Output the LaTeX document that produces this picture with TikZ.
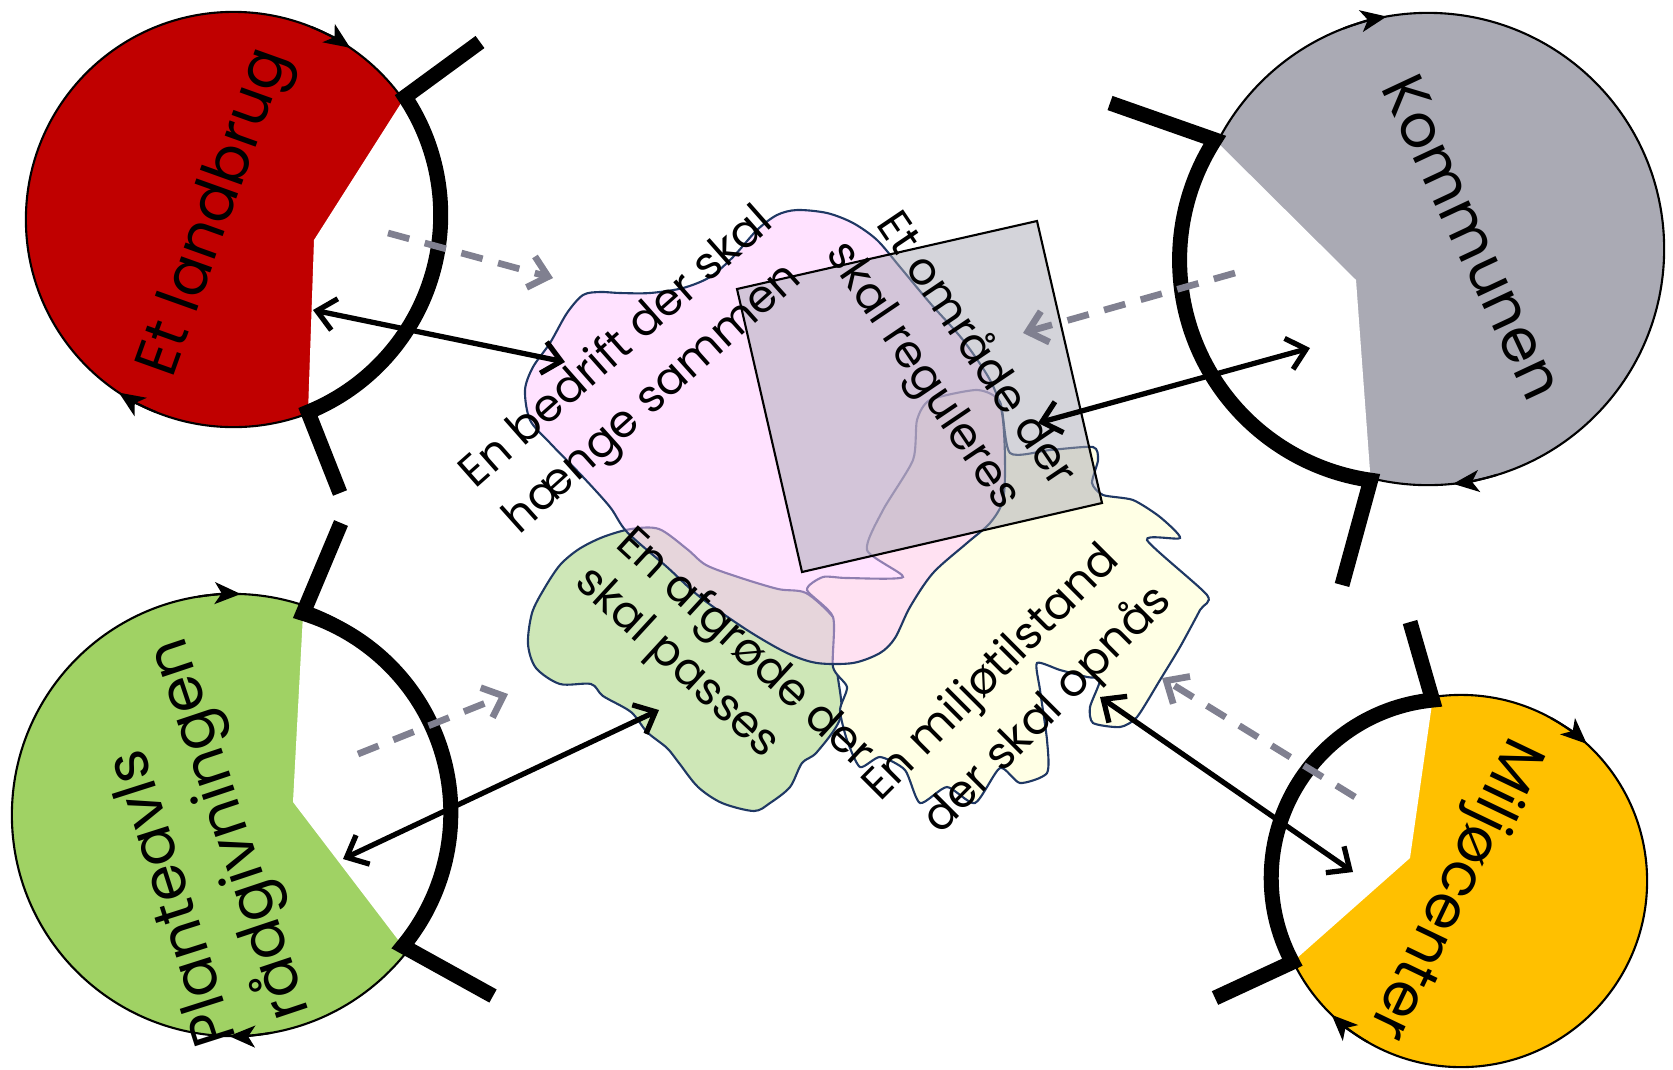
\documentclass[tikz,border=0pt]{standalone}
\usepackage{fontspec}
\setmainfont{Poppins}
\usetikzlibrary{arrows.meta}
\definecolor{cred}{RGB}{192,0,0}
\definecolor{cgray}{RGB}{170,170,180}
\definecolor{cgreen}{RGB}{160,210,100}
\definecolor{corange}{RGB}{255,192,0}
\definecolor{cpink}{RGB}{255,197,255}
\definecolor{cleaf}{RGB}{206,231,183}
\definecolor{civory}{RGB}{255,255,229}
\definecolor{cedge}{RGB}{31,56,100}
\definecolor{cdash}{RGB}{128,128,144}
\definecolor{csq}{RGB}{169,169,181}
\begin{document}
\begin{tikzpicture}[x=0.01cm,y=0.01cm,
  disc/.style={draw=black,line width=0.6pt},
  heavy/.style={line width=0.15cm,line join=miter,line cap=butt},
  flow/.style={-{Stealth[length=0.26cm,width=0.22cm,inset=0.07cm]},line width=0.6pt},
  link/.style={line width=1.5pt,{Straight Barb[length=0.18cm,width=0.32cm]}-{Straight Barb[length=0.18cm,width=0.32cm]}},
  hint/.style={line width=1.9pt,draw=cdash,dash pattern=on 0.22cm off 0.16cm,-{Straight Barb[length=0.18cm,width=0.32cm]}},
  blob/.style={draw=cedge,line width=0.6pt},
  big/.style={font=\fontsize{17}{20}\selectfont,inner sep=0pt},
  small/.style={font=\fontsize{12.8}{15}\selectfont,inner sep=0pt},
]
\useasboundingbox (0,0) rectangle (1673,-1069);

% ---------- Et landbrug (red) ----------
\fill[cred] (233.5,-219.5) circle[radius=2.075cm];
\draw[disc] (233.5,-219.5) circle[radius=2.075cm];
\fill[white] (314,-240) -- ([shift={(33.7:2.126cm)}]228,-215) arc[start angle=33.7,end angle=-67.9,radius=2.126cm] -- cycle;
\draw[heavy] (480,-42) -- ([shift={(33.7:2.126cm)}]228,-215) arc[start angle=33.7,end angle=-67.9,radius=2.126cm] -- (340,-493);
\draw[flow] ([shift={(68:2.075cm)}]233.5,-219.5) arc[start angle=68,end angle=55.8,radius=2.075cm];
\draw[flow] ([shift={(248:2.075cm)}]233.5,-219.5) arc[start angle=248,end angle=236.5,radius=2.075cm];

% ---------- Kommunen (gray) ----------
\fill[cgray] (1428,-249) circle[radius=2.36cm];
\draw[disc] (1428,-249) circle[radius=2.36cm];
\fill[white] (1356,-280) -- ([shift={(147.3:2.223cm)}]1402,-260) arc[start angle=147.3,end angle=261.9,radius=2.223cm] -- cycle;
\draw[heavy] (1110,-103) -- ([shift={(147.3:2.223cm)}]1402,-260) arc[start angle=147.3,end angle=261.9,radius=2.223cm] -- (1342,-585);
\draw[flow] ([shift={(111:2.36cm)}]1428,-249) arc[start angle=111,end angle=100.1,radius=2.36cm];
\draw[flow] ([shift={(287:2.36cm)}]1428,-249) arc[start angle=287,end angle=276.1,radius=2.36cm];

% ---------- Planteavls (green) ----------
\fill[cgreen] (233,-815) circle[radius=2.21cm];
\draw[disc] (233,-815) circle[radius=2.21cm];
\fill[white] (293,-802) -- ([shift={(73:2.087cm)}]242,-813) arc[start angle=73,end angle=-39.6,radius=2.087cm] -- cycle;
\draw[heavy] (341,-523) -- ([shift={(73:2.087cm)}]242,-813) arc[start angle=73,end angle=-39.6,radius=2.087cm] -- (493,-996);
\draw[flow] ([shift={(99:2.21cm)}]233,-815) arc[start angle=99,end angle=88,radius=2.21cm];
\draw[flow] ([shift={(280:2.21cm)}]233,-815) arc[start angle=280,end angle=269,radius=2.21cm];

% ---------- Miljøcenter (orange) ----------
\fill[corange] (1461,-881) circle[radius=1.86cm];
\draw[disc] (1461,-881) circle[radius=1.86cm];
\fill[white] (1410,-858) -- ([shift={(95.6:1.787cm)}]1450,-878) arc[start angle=95.6,end angle=208.1,radius=1.787cm] -- cycle;
\draw[heavy] (1410,-622) -- ([shift={(95.6:1.787cm)}]1450,-878) arc[start angle=95.6,end angle=208.1,radius=1.787cm] -- (1215,-998);
\draw[flow] ([shift={(61:1.86cm)}]1461,-881) arc[start angle=61,end angle=47.5,radius=1.86cm];
\draw[flow] ([shift={(240:1.86cm)}]1461,-881) arc[start angle=240,end angle=226,radius=1.86cm];

% ---------- central shapes ----------
\draw[blob,fill=cleaf] plot[smooth cycle,tension=0.5] coordinates {(603,-537) (631,-529) (659,-529) (687,-549) (706,-565) (738,-577) (778,-589) (806,-593) (833,-617) (841,-637) (837,-668) (841,-716) (817,-752) (802,-763) (790,-787) (770,-803) (754,-811) (722,-803) (698,-787) (679,-763) (667,-748) (647,-732) (631,-712) (603,-696) (591,-684) (560,-684) (536,-668) (528,-644) (532,-613) (544,-589) (560,-565) (579,-549)};
\draw[blob,fill=civory] plot[smooth cycle,tension=0.4] coordinates {(867,-550) (883,-510) (913,-460) (917,-420) (930,-400) (977,-390) (1000,-402) (1010,-453) (1050,-450) (1093,-447) (1098,-460) (1092,-483) (1103,-495) (1133,-500) (1160,-517) (1180,-538) (1147,-540) (1207,-595) (1200,-610) (1180,-647) (1160,-680) (1137,-717) (1120,-727) (1093,-723) (1090,-707) (1100,-680) (1087,-677) (1060,-670) (1037,-663) (1040,-690) (1047,-740) (1047,-773) (1020,-783) (1000,-768) (975,-803) (947,-787) (920,-803) (905,-770) (880,-757) (860,-767) (847,-740) (840,-710) (847,-687) (833,-667) (833,-617) (807,-590) (823,-577) (847,-578) (903,-577)};
\draw[blob,fill=cpink,fill opacity=0.5] plot[smooth cycle,tension=0.5] coordinates {(525,-390) (530,-420) (550,-443) (583,-477) (610,-507) (627,-532) (667,-567) (700,-597) (747,-630) (787,-653) (817,-663) (853,-663) (880,-653) (895,-638) (910,-607) (933,-573) (967,-543) (990,-523) (1003,-500) (1005,-460) (1002,-413) (990,-380) (963,-340) (930,-303) (900,-267) (877,-240) (853,-223) (827,-213) (797,-210) (777,-215) (757,-230) (733,-257) (710,-277) (683,-288) (650,-293) (620,-293) (600,-292) (583,-295) (567,-313) (550,-343) (533,-367)};
\draw[black,line width=0.6pt,fill=csq,fill opacity=0.5] (737,-289) -- (1037,-221) -- (1102,-503) -- (802,-572) -- cycle;

% ---------- labels ----------
\node[big,rotate=70.3] (tland) at (217,-213) {Et landbrug};
\node[big,rotate=-64.9] (tkomm) at (1473,-237) {Kommunen};
\node[big,rotate=107.7] (tplanA) at (169,-899) {Planteavls};
\node[big,rotate=108.5] (tplanB) at (231,-829) {rådgivningen};
\node[big,rotate=-115.6] (tmilj) at (1453,-888) {Miljøcenter};
\node[small,rotate=41.5] (tbedA) at (614,-345) {En bedrift der skal};
\node[small,rotate=41.9] (tbedB) at (654,-400) {hænge sammen};
\node[small,rotate=-56] (tomrA) at (980,-347) {Et område der};
\node[small,rotate=-56] (tomrB) at (921,-377) {skal reguleres};
\node[small,rotate=-42.6] (tafgA) at (744,-650) {En afgrøde der};
\node[small,rotate=-42.6] (tafgB) at (676,-664) {skal passes};
\node[small,rotate=45] (tmilA) at (993,-674) {En miljøtilstand};
\node[small,rotate=45] (tmilB) at (1048,-710) {der skal opnås};

% ---------- connectors ----------
\coordinate (a1s) at (313,-310); \coordinate (a1e) at (565,-362);
\coordinate (d1s) at (388,-233); \coordinate (d1e) at (553,-278);
\coordinate (a2s) at (1310,-348); \coordinate (a2e) at (1038,-423);
\coordinate (d2s) at (1235,-273); \coordinate (d2e) at (1023,-333);
\coordinate (a3s) at (343,-859); \coordinate (a3e) at (659,-710);
\coordinate (d3s) at (358,-754); \coordinate (d3e) at (508,-694);
\coordinate (a4s) at (1353,-872); \coordinate (a4e) at (1100,-697);
\coordinate (d4s) at (1355,-797); \coordinate (d4e) at (1162,-678);
\draw[link] (a1s) -- (a1e);
\draw[hint] (d1s) -- (d1e);
\draw[link] (a2s) -- (a2e);
\draw[hint] (d2s) -- (d2e);
\draw[link] (a3s) -- (a3e);
\draw[hint] (d3s) -- (d3e);
\draw[link] (a4s) -- (a4e);
\draw[hint] (d4s) -- (d4e);
\end{tikzpicture}
\end{document}
